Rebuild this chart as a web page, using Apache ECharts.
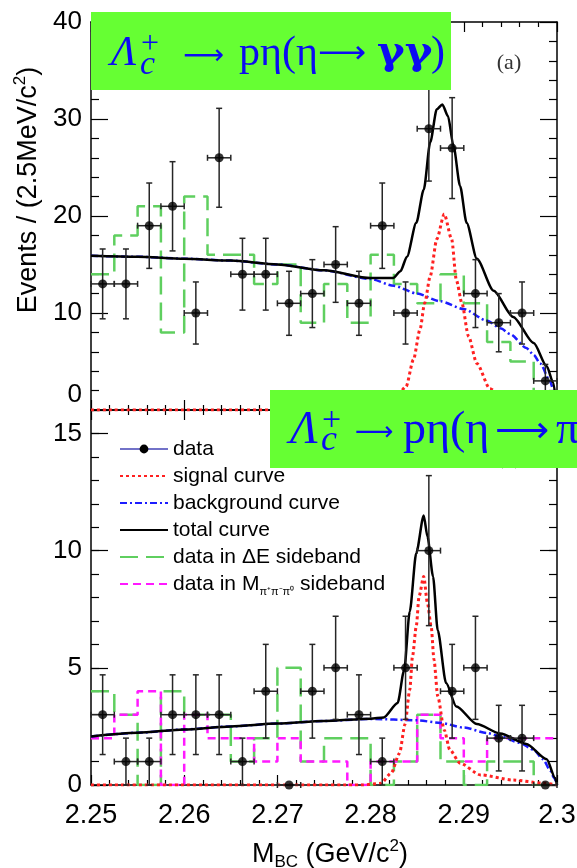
<!DOCTYPE html>
<html>
<head>
<meta charset="utf-8">
<script src="https://cdn.jsdelivr.net/npm/echarts@6/dist/echarts.min.js"></script>
<style>
  html, body { margin: 0; padding: 0; background: #fff; }
  #main { width: 577px; height: 868px; }
</style>
</head>
<body>
<div id="main"></div>
<script>
// bin centres / edges of the 2.5 MeV bins
const binCenters = [2.25125, 2.25375, 2.25625, 2.25875, 2.26125, 2.26375, 2.26625, 2.26875, 2.27125, 2.27375,
  2.27625, 2.27875, 2.28125, 2.28375, 2.28625, 2.28875, 2.29125, 2.29375, 2.29625, 2.29875]
const binEdges = [2.25, 2.2525, 2.255, 2.2575, 2.26, 2.2625, 2.265, 2.2675, 2.27, 2.2725, 2.275,
  2.2775, 2.28, 2.2825, 2.285, 2.2875, 2.29, 2.2925, 2.295, 2.2975, 2.3]
const halfBin = 0.00125

// panel (a): eta -> gamma gamma
const countsA = [13, 13, 19, 21, 10, 26, 14, 14, 11, 12, 15, 11, 19, 10, 29, 27, 12, 9, 10, 3]
const errA = [3.6, 3.6, 4.4, 4.6, 3.2, 5.1, 3.7, 3.7, 3.3, 3.5, 3.9, 3.3, 4.4, 3.2, 5.4, 5.2, 3.5, 3.0, 3.2, 1.7]
const sideDeA = [14, 18, 21, 8, 22, 16, 16, 13, 15, 9, 13, 9, 16, 13, 11, 14, 11, 7, 5, 1]
const bkgA = [[2.25, 15.9], [2.255, 15.8], [2.26, 15.6], [2.265, 15.4], [2.27, 15.0], [2.275, 14.4], [2.28, 13.5],
  [2.2825, 12.8], [2.285, 12.0], [2.2875, 11.2], [2.29, 10.4], [2.2925, 9.2], [2.294, 8.4], [2.295, 7.8],
  [2.2967, 6.4], [2.2975, 5.7], [2.2982, 4.8], [2.2992, 3.1], [2.2997, 1.8], [2.3, 0]]
const sigA = [[2.25, 0], [2.278, 0], [2.281, 0.3], [2.2825, 1.0], [2.2838, 2.4], [2.2846, 5.2], [2.2853, 8.3],
  [2.2858, 11.0], [2.2864, 13.8], [2.2871, 17.6], [2.2879, 20.2], [2.2887, 17.6], [2.2892, 13.4], [2.2898, 11.0],
  [2.2905, 7.6], [2.2914, 4.8], [2.2928, 2.2], [2.2945, 1.0], [2.297, 0.4], [2.3, 0]]
const totA = [[2.25, 15.9], [2.255, 15.8], [2.26, 15.6], [2.265, 15.4], [2.27, 15.0], [2.275, 14.4], [2.28, 13.6],
  [2.2824, 13.6], [2.2832, 14.3], [2.2839, 15.8], [2.2849, 19.3], [2.2857, 22.7], [2.2864, 27.6], [2.2871, 31.0],
  [2.2877, 31.5], [2.2883, 30.3], [2.2889, 27.2], [2.2896, 23.1], [2.2903, 19.3], [2.2914, 15.6], [2.2932, 12.3],
  [2.2953, 9.6], [2.2975, 6.9], [2.2989, 4.5], [2.2996, 2.8], [2.3, 0]]

// panel (b): eta -> pi+ pi- pi0
const countsB = [3, 1, 1, 3, 3, 3, 1, 4, 0, 4, 5, 3, 1, 5, 10, 4, 5, 2, 2, 0]
const errB = [1.7, 1, 1, 1.7, 1.7, 1.7, 1, 2, 0, 2, 2.2, 1.7, 1, 2.2, 3.2, 2, 2.2, 1.4, 1.4, 0]
const sideDeB = [4, 3, 0, 4, 3, 3, 1, 2, 5, 1, 2, 2, 0, 1, 3, 1, 0, 1, 1, 0]
const sideMB = [2, 3, 4, 0, 3, 2, 2, 1, 2, 1, 1, 0, 1, 1, 3, 2, 1, 2, 2, 2]
const bkgB = [[2.25, 2.07], [2.255, 2.23], [2.26, 2.37], [2.265, 2.5], [2.27, 2.62], [2.275, 2.73], [2.28, 2.82],
  [2.285, 2.76], [2.2875, 2.65], [2.29, 2.45], [2.2925, 2.22], [2.294, 2.07], [2.296, 1.8], [2.2975, 1.5],
  [2.2985, 1.1], [2.2993, 0.6], [2.2997, 0.3], [2.3, 0]]
const sigB = [[2.25, 0], [2.279, 0], [2.2811, 0.07], [2.2822, 0.5], [2.2831, 1.35], [2.2837, 2.6], [2.2842, 4.06],
  [2.2845, 5.5], [2.2849, 6.77], [2.2852, 8.05], [2.2857, 8.9], [2.2861, 7.76], [2.2865, 6.77], [2.2868, 5.35],
  [2.2872, 3.8], [2.2879, 2.35], [2.2885, 1.5], [2.2896, 0.93], [2.2918, 0.43], [2.2953, 0.21], [2.2985, 0.08], [2.3, 0]]
const totB = [[2.25, 2.07], [2.255, 2.23], [2.26, 2.37], [2.265, 2.5], [2.27, 2.62], [2.275, 2.73], [2.28, 2.83],
  [2.2814, 2.88], [2.2829, 3.5], [2.2836, 4.9], [2.2842, 7.4], [2.2849, 9.9], [2.2857, 11.5], [2.2861, 10.6],
  [2.2867, 8.9], [2.2872, 6.6], [2.2881, 4.35], [2.2892, 3.35], [2.2914, 2.6], [2.2939, 2.2], [2.2967, 1.75],
  [2.2989, 1.1], [2.2998, 0.3], [2.3, 0]]

const FONT = 'Liberation Sans'
const SERIF = '"Liberation Serif"'
const GREEN = '#5fcf5f'
const MAGENTA = '#ff19ff'
const RED = '#ff2020'
const BLUE = '#1c1cff'
const TITLE_BLUE = '#0b0bf2'

const chart = echarts.init(document.getElementById('main'))

function histData(vals) {
  return binEdges.map((e, i) => [e, vals[Math.min(i, vals.length - 1)]])
}

function histSeries(name, vals, color, dash, xi, yi) {
  return {
    name, type: 'line', step: 'end', xAxisIndex: xi, yAxisIndex: yi,
    data: histData(vals), symbol: 'none', silent: true, z: 2,
    lineStyle: {color, width: 2.5, type: dash}
  }
}

function curveSeries(name, pts, color, width, dash, xi, yi, z) {
  return {
    name, type: 'line', xAxisIndex: xi, yAxisIndex: yi, data: pts,
    smooth: 0.25, smoothMonotone: 'x', symbol: 'none', silent: true, z,
    lineStyle: {color, width, type: dash}
  }
}

function errorBars(name, counts, errs, xi, yi) {
  return {
    name, type: 'custom', xAxisIndex: xi, yAxisIndex: yi, silent: true, z: 5,
    data: binCenters.map((c, i) => [c, counts[i], errs[i]]),
    renderItem(params, api) {
      const x = api.value(0), y = api.value(1), e = api.value(2)
      const p = api.coord([x, y])
      const l = api.coord([x - halfBin, y])[0]
      const r = api.coord([x + halfBin, y])[0]
      const style = {stroke: '#262626', lineWidth: 1.5}
      const kids = [
        {type: 'line', shape: {x1: l, y1: p[1], x2: r, y2: p[1]}, style},
        {type: 'line', shape: {x1: l, y1: p[1] - 3, x2: l, y2: p[1] + 3}, style},
        {type: 'line', shape: {x1: r, y1: p[1] - 3, x2: r, y2: p[1] + 3}, style}
      ]
      if (e > 0) {
        const t = api.coord([x, y + e])[1]
        const b = api.coord([x, y - e])[1]
        kids.push(
          {type: 'line', shape: {x1: p[0], y1: t, x2: p[0], y2: b}, style},
          {type: 'line', shape: {x1: p[0] - 3, y1: t, x2: p[0] + 3, y2: t}, style},
          {type: 'line', shape: {x1: p[0] - 3, y1: b, x2: p[0] + 3, y2: b}, style}
        )
      }
      return {type: 'group', children: kids}
    }
  }
}

function pointSeries(name, counts, xi, yi) {
  return {
    name, type: 'scatter', xAxisIndex: xi, yAxisIndex: yi, silent: true, z: 6,
    data: binCenters.map((c, i) => [c, counts[i]]),
    symbol: 'circle', symbolSize: 9, itemStyle: {color: '#000'}
  }
}

function xAxisOf(grid, position, labels) {
  return {
    type: 'value', gridIndex: grid, position, min: 2.25, max: 2.3, interval: 0.01,
    splitLine: {show: false},
    axisLine: {onZero: false, lineStyle: {color: '#000', width: 1.5}},
    axisTick: {inside: true, length: 10, lineStyle: {color: '#000', width: 1.2}},
    minorTick: {show: true, splitNumber: 5, length: 5, lineStyle: {color: '#000', width: 1.2}},
    axisLabel: labels ? {
      show: true, margin: 17, color: '#000', fontSize: 27, fontFamily: FONT,
      formatter: v => String(Math.round(v * 100) / 100)
    } : {show: false}
  }
}

function yAxisOf(grid, position, min, max, interval, tickLen, minor, labels) {
  return {
    type: 'value', gridIndex: grid, position, min, max, interval,
    splitLine: {show: false},
    axisLine: {onZero: false, lineStyle: {color: '#000', width: 1.5}},
    axisTick: {inside: true, length: tickLen, lineStyle: {color: '#000', width: 1.2}},
    minorTick: {show: minor, splitNumber: 5, length: 8, lineStyle: {color: '#000', width: 1.2}},
    axisLabel: labels || {show: false}
  }
}

function txt(x, y, text, font, stretch) {
  return {type: 'text', x, y, z: 101, scaleX: stretch || 1,
    style: {text, font, fill: TITLE_BLUE, verticalAlign: 'middle'}}
}

// the two decay labels on green boxes, piece by piece
const titleA = [
  txt(111, 54, 'Λ', 'italic 42px ' + SERIF),
  txt(141, 45, '+', '32px ' + SERIF),
  txt(140, 65, 'c', 'italic 34px ' + SERIF),
  txt(183, 57, '⟶', '28px "DejaVu Sans"', 1.02),
  txt(239, 54, 'pη(η', '42px ' + SERIF),
  txt(318, 55, '⟶', '32px "DejaVu Sans"', 1.05),
  txt(377, 54, 'γγ', 'bold 40px "DejaVu Serif"', 1.05),
  txt(431, 54, ')', '42px ' + SERIF)
]
const titleB = [
  txt(290, 431, 'Λ', 'italic 46px ' + SERIF),
  txt(322, 421, '+', '34px ' + SERIF),
  txt(321, 441, 'c', 'italic 36px ' + SERIF),
  txt(355, 433, '⟶', '27px "DejaVu Sans"', 1.0),
  txt(403, 431, 'pη(η', '46px ' + SERIF),
  txt(495, 433, '⟶', '36px "DejaVu Sans"', 1.05),
  txt(556, 431, 'π⁺π⁻π⁰)', '46px ' + SERIF)
]

const lineOnly = {itemStyle: {opacity: 0}}

const option = {
  animation: false,
  backgroundColor: '#fff',
  textStyle: {fontFamily: FONT},
  grid: [
    {left: 91, right: 20, top: 22, height: 388, outerBoundsMode: 'none', containLabel: false},
    {left: 91, right: 20, top: 410, height: 375, outerBoundsMode: 'none', containLabel: false}
  ],
  xAxis: [
    xAxisOf(0, 'bottom', false),
    xAxisOf(0, 'top', false),
    Object.assign(xAxisOf(1, 'bottom', true), {
      name: '{a|M}{s|BC}{a| (GeV/c}{p|2}{a|)}',
      nameLocation: 'middle', nameGap: 53,
      nameTextStyle: {
        padding: [0, 0, 0, 12],
        rich: {
          a: {fontSize: 27, fontFamily: FONT, color: '#000'},
          s: {fontSize: 17, fontFamily: FONT, color: '#000', padding: [16, 0, 0, 0]},
          p: {fontSize: 17, fontFamily: FONT, color: '#000', padding: [0, 0, 16, 0]}
        }
      }
    }),
    xAxisOf(1, 'top', false)
  ],
  yAxis: [
    Object.assign(yAxisOf(0, 'left', 0, 40, 10, 17, true, {
      show: true, margin: 9, color: '#000', fontSize: 26, fontFamily: FONT,
      formatter: v => v === 0 ? '{lift|0}' : String(v),
      rich: {lift: {fontSize: 26, fontFamily: FONT, color: '#000', padding: [0, 0, 30, 0]}}
    }), {
      name: 'Events / (2.5MeV/c{p|2})',
      nameLocation: 'middle', nameRotate: 90, nameGap: 46,
      nameTextStyle: {
        fontSize: 27, fontFamily: FONT, color: '#000', padding: [0, 0, 0, 52],
        rich: {p: {fontSize: 17, fontFamily: FONT, color: '#000', padding: [0, 0, 16, 0]}}
      }
    }),
    yAxisOf(0, 'right', 0, 40, 10, 17, true, null),
    yAxisOf(1, 'left', 0, 16, 5, 17, false, {
      show: true, margin: 9, color: '#000', fontSize: 26, fontFamily: FONT, showMaxLabel: false
    }),
    yAxisOf(1, 'right', 0, 16, 5, 17, false, null),
    Object.assign(yAxisOf(1, 'left', 0, 16, 1, 8, false, null), {axisLine: {show: false}}),
    Object.assign(yAxisOf(1, 'right', 0, 16, 1, 8, false, null), {axisLine: {show: false}})
  ],
  legend: {
    orient: 'vertical', left: 114, top: 433, itemGap: 5, itemWidth: 48, itemHeight: 11,
    selectedMode: false,
    data: [
      {name: 'data'},
      Object.assign({name: 'signal curve'}, lineOnly),
      Object.assign({name: 'background curve'}, lineOnly),
      Object.assign({name: 'total curve'}, lineOnly),
      Object.assign({name: 'data in ΔE sideband'}, lineOnly),
      Object.assign({name: 'data in M sideband'}, lineOnly)
    ],
    textStyle: {
      fontSize: 21, fontFamily: FONT, color: '#000', lineHeight: 22,
      rich: {
        n: {fontSize: 21, fontFamily: FONT, color: '#000'},
        s: {fontSize: 11, fontFamily: FONT, color: '#000', padding: [16, 0, 0, 0]}
      }
    },
    formatter: name => name === 'data in M sideband' ? '{n|data in M}{s|π⁺π⁻π⁰}{n| sideband}' : name
  },
  graphic: [
    {type: 'text', x: 509, y: 63, z: 50,
      style: {text: '(a)', font: '22px ' + SERIF, fill: '#333', align: 'center', verticalAlign: 'middle'}},
    {type: 'text', x: 509, y: 458, z: 50,
      style: {text: '(b)', font: '22px ' + SERIF, fill: '#333', align: 'center', verticalAlign: 'middle'}},
    {type: 'rect', z: 100, shape: {x: 91, y: 12, width: 360, height: 78}, style: {fill: '#66ff33'}},
    {type: 'rect', z: 100, shape: {x: 270, y: 390, width: 310, height: 78}, style: {fill: '#66ff33'}},
    ...titleA,
    ...titleB
  ],
  series: [
    // panel (a)
    histSeries('ΔE sideband (a)', sideDeA, GREEN, [18, 8], 0, 0),
    curveSeries('background (a)', bkgA, BLUE, 2.5, [7, 3, 2, 3], 0, 0, 3),
    curveSeries('signal (a)', sigA, RED, 3, [3, 3], 0, 0, 3),
    curveSeries('total (a)', totA, '#000', 2.5, 'solid', 0, 0, 4),
    errorBars('errors (a)', countsA, errA, 0, 0),
    pointSeries('points (a)', countsA, 0, 0),
    // panel (b)
    histSeries('data in ΔE sideband', sideDeB, GREEN, [18, 8], 2, 2),
    histSeries('data in M sideband', sideMB, MAGENTA, [8, 5], 2, 2),
    curveSeries('background curve', bkgB, BLUE, 2.5, [7, 3, 2, 3], 2, 2, 3),
    curveSeries('signal curve', sigB, RED, 3, [3, 3], 2, 2, 3),
    curveSeries('total curve', totB, '#000', 2.5, 'solid', 2, 2, 4),
    errorBars('errors (b)', countsB, errB, 2, 2),
    pointSeries('points (b)', countsB, 2, 2),
    // legend-only entry for the data marker
    {
      name: 'data', type: 'line', xAxisIndex: 2, yAxisIndex: 2, data: [],
      symbol: 'circle', symbolSize: 9, itemStyle: {color: '#000'},
      lineStyle: {color: '#7272c8', width: 2}
    }
  ]
}

chart.setOption(option)
</script>
</body>
</html>
